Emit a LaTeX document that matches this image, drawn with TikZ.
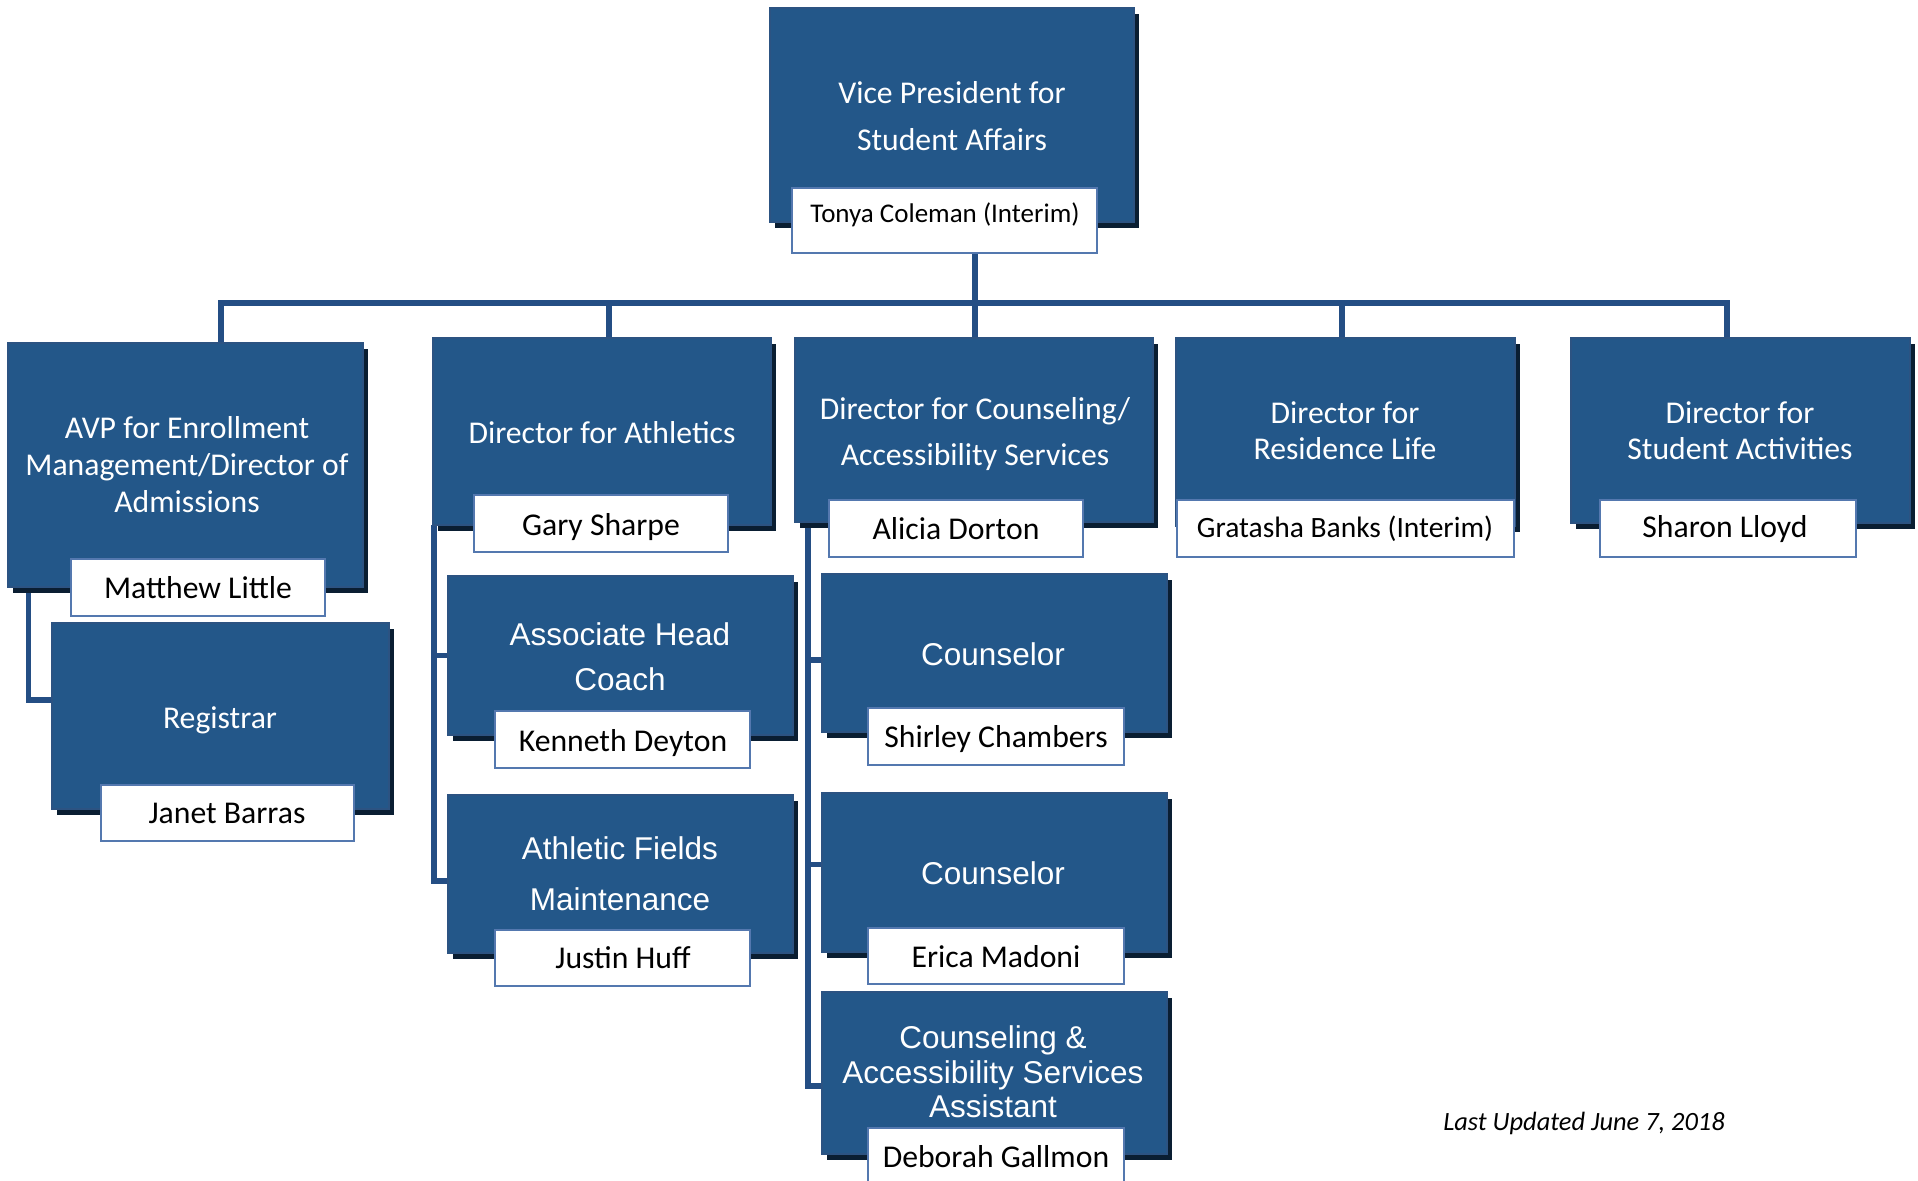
\documentclass[tikz,border=0pt]{standalone}
\usepackage{fontspec}
\setmainfont{Carlito}
\newfontfamily\arialf{Liberation Sans}
\usetikzlibrary{fit,shadows}
\definecolor{boxfill}{RGB}{35,87,137}
\definecolor{boxedge}{RGB}{44,83,130}
\definecolor{shadowc}{RGB}{10,30,50}
\definecolor{nameedge}{RGB}{84,120,175}
\definecolor{connc}{RGB}{36,78,132}
\pgfdeclarelayer{bg}
\pgfsetlayers{bg,main}
\tikzset{
  mainbox/.style={draw=boxedge, line width=1.5pt, fill=boxfill, inner sep=0pt,
    drop shadow={shadow xshift=5pt, shadow yshift=-6pt, fill=shadowc, opacity=1}},
  namebox/.style={draw=nameedge, line width=1.3pt, fill=white, inner sep=0pt},
  ttl/.style={text=white, font=\fontsize{31.7}{31.7}\selectfont, anchor=base, inner sep=0pt},
  ttla/.style={text=white, font=\arialf\fontsize{31.5}{31.5}\selectfont, anchor=base, inner sep=0pt},
  nm/.style={text=black, font=\fontsize{31.7}{31.7}\selectfont, anchor=base, inner sep=0pt},
  conn/.style={draw=connc, line width=5.5pt},
}
\begin{document}
\begin{tikzpicture}[x=1pt,y=-1pt]
\useasboundingbox (0,0) rectangle (1918,1180);

% ---- boxes ----
\node[mainbox, fit={(770,8) (1134,222)}] (vp) {};
\node[namebox, fit={(792,188) (1097,253)}] (vpN) {};
\node[ttl] (vpT1) at (952,103) {Vice President for};
\node[ttl] (vpT2) at (952,150) {Student Affairs};
\node[nm, font=\fontsize{27}{27}\selectfont] (vpNT) at (945,222) {Tonya Coleman (Interim)};

\node[mainbox, fit={(8,343) (363,587)}] (avp) {};
\node[namebox, fit={(71,559) (325,616)}] (avpN) {};
\node[ttl] (avpT1) at (187,438) {AVP for Enrollment};
\node[ttl] (avpT2) at (187,475) {Management/Director of};
\node[ttl] (avpT3) at (187,512) {Admissions};
\node[nm] (avpNT) at (198,598) {Matthew Little};

\node[mainbox, fit={(52,623) (389,809)}] (reg) {};
\node[namebox, fit={(101,785) (354,841)}] (regN) {};
\node[ttl] (regT) at (220,728) {Registrar};
\node[nm] (regNT) at (227,823) {Janet Barras};

\node[mainbox, fit={(433,338) (771,525)}] (ath) {};
\node[namebox, fit={(474,495) (728,552)}] (athN) {};
\node[ttl] (athT) at (602,443) {Director for Athletics};
\node[nm] (athNT) at (601,535) {Gary Sharpe};

\node[mainbox, fit={(448,576) (793,735)}] (ahc) {};
\node[namebox, fit={(495,711) (750,768)}] (ahcN) {};
\node[ttla] (ahcT1) at (620,645) {Associate Head};
\node[ttla] (ahcT2) at (620,690) {Coach};
\node[nm] (ahcNT) at (623,751) {Kenneth Deyton};

\node[mainbox, fit={(448,795) (793,953)}] (afm) {};
\node[namebox, fit={(495,930) (750,986)}] (afmN) {};
\node[ttla] (afmT1) at (620,859) {Athletic Fields};
\node[ttla] (afmT2) at (620,910) {Maintenance};
\node[nm] (afmNT) at (623,968) {Justin Huff};

\node[mainbox, fit={(795,338) (1153,522)}] (cas) {};
\node[namebox, fit={(829,500) (1083,557)}] (casN) {};
\node[ttl] (casT1) at (975,419) {Director for Counseling/};
\node[ttl] (casT2) at (975,465) {Accessibility Services};
\node[nm] (casNT) at (956,539) {Alicia Dorton};

\node[mainbox, fit={(822,574) (1167,732)}] (cone) {};
\node[namebox, fit={(868,708) (1124,765)}] (coneN) {};
\node[ttla] (coneT) at (993,665) {Counselor};
\node[nm] (coneNT) at (996,747) {Shirley Chambers};

\node[mainbox, fit={(822,793) (1167,952)}] (ctwo) {};
\node[namebox, fit={(868,928) (1124,984)}] (ctwoN) {};
\node[ttla] (ctwoT) at (993,884) {Counselor};
\node[nm] (ctwoNT) at (996,967) {Erica Madoni};

\node[mainbox, fit={(822,992) (1167,1154)}] (asst) {};
\node[namebox, fit={(868,1128) (1124,1186)}] (asstN) {};
\node[ttla] (asstT1) at (993,1048) {Counseling \&};
\node[ttla] (asstT2) at (993,1083) {Accessibility Services};
\node[ttla] (asstT3) at (993,1117) {Assistant};
\node[nm] (asstNT) at (996,1167) {Deborah Gallmon};

\node[mainbox, fit={(1176,338) (1515,526)}] (res) {};
\node[namebox, fit={(1177,500) (1514,557)}] (resN) {};
\node[ttl] (resT1) at (1345,423) {Director for};
\node[ttl] (resT2) at (1345,459) {Residence Life};
\node[nm, font=\fontsize{29.5}{29.5}\selectfont] (resNT) at (1345,537) {Gratasha Banks (Interim)};

\node[mainbox, fit={(1571,338) (1910,523)}] (sa) {};
\node[namebox, fit={(1600,500) (1856,557)}] (saN) {};
\node[ttl] (saT1) at (1740,423) {Director for};
\node[ttl] (saT2) at (1740,459) {Student Activities};
\node[nm] (saNT) at (1725,537) {Sharon Lloyd};

\node[anchor=base, inner sep=0pt, font=\itshape\fontsize{26.4}{26.4}\selectfont] (upd) at (1584,1130) {Last Updated June 7, 2018};

% ---- connectors ----
\coordinate (hub) at (975,303);
\coordinate (busL) at (221,303);
\coordinate (busR) at (1727,303);
\coordinate (dAth) at (609,303);
\coordinate (dRes) at (1342,303);
\coordinate (avpV) at (28.5,587);
\coordinate (athV) at (434,525);
\coordinate (casV) at (808,522);
\coordinate (regJ) at ([yshift=16pt]reg.west);
\coordinate (afmJ) at ([yshift=-7pt]afm.west);
\coordinate (coneJ) at ([yshift=-7pt]cone.west);
\coordinate (ctwoJ) at ([yshift=8pt]ctwo.west);
\coordinate (asstJ) at ([yshift=-13pt]asst.west);
\begin{pgfonlayer}{bg}
\draw[conn] (hub |- vpN.south) -- (hub);
\draw[conn] (busL |- avp.north) -- (busL) -- (busR) -- (busR |- sa.north);
\draw[conn] (dAth) -- (dAth |- ath.north);
\draw[conn] (hub) -- (hub |- cas.north);
\draw[conn] (dRes) -- (dRes |- res.north);
\draw[conn] (avpV) |- (regJ);
\draw[conn] (athV) |- (afmJ);
\draw[conn] (athV |- ahc.west) -- (ahc.west);
\draw[conn] (casV) |- (asstJ);
\draw[conn] (coneJ -| casV) -- (coneJ);
\draw[conn] (ctwoJ -| casV) -- (ctwoJ);
\end{pgfonlayer}
\end{tikzpicture}
\end{document}
